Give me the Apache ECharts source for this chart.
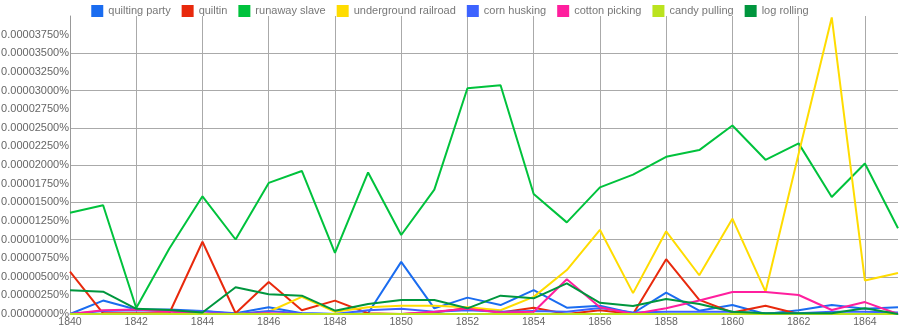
<!DOCTYPE html>
<html>
<head>
<meta charset="utf-8">
<script src="https://cdn.jsdelivr.net/npm/echarts@6/dist/echarts.min.js"></script>
<style>
html,body{margin:0;padding:0;background:#fff;}
#chart{width:900px;height:330px;}
</style>
</head>
<body>
<div id="chart"></div>
<script>
var years = ['1840','1841','1842','1843','1844','1845','1846','1847','1848','1849','1850','1851','1852','1853','1854','1855','1856','1857','1858','1859','1860','1861','1862','1863','1864','1865'];
var seriesNames = ['quilting party','quiltin','runaway slave','underground railroad','corn husking','cotton picking','candy pulling','log rolling'];
var seriesColors = ['#1a6cf0','#e8290c','#00c23c','#ffdc00','#3d63ff','#ff1f9e','#bbe31e','#00963e'];

var quiltingParty = [0e-7,18e-7,6e-7,6e-7,4e-7,1e-7,9e-7,1e-7,0e-7,1e-7,70e-7,7.6e-7,22e-7,12e-7,32e-7,8.5e-7,11e-7,1e-7,28.6e-7,4.5e-7,12e-7,0e-7,5e-7,12e-7,7e-7,9e-7];
var quiltin = [57e-7,1e-7,1e-7,1e-7,97e-7,1e-7,43e-7,5e-7,18e-7,1e-7,0e-7,2e-7,8e-7,2e-7,8.5e-7,0e-7,5e-7,0e-7,73.5e-7,19e-7,2e-7,11e-7,0e-7,0e-7,0e-7,0e-7];
var runawaySlave = [136e-7,146e-7,8e-7,88e-7,158e-7,100e-7,176e-7,192e-7,82e-7,190e-7,106e-7,167e-7,303e-7,307e-7,161e-7,123e-7,170e-7,187e-7,211e-7,220e-7,253e-7,207e-7,229e-7,157e-7,202e-7,115e-7];
var undergroundRailroad = [0e-7,0e-7,0e-7,0e-7,0e-7,0e-7,3e-7,23e-7,3e-7,9e-7,11e-7,11e-7,9e-7,5e-7,23e-7,59e-7,113e-7,28e-7,111e-7,52e-7,128e-7,30e-7,215e-7,398e-7,45e-7,55e-7];
var cornHusking = [0e-7,4e-7,5e-7,4e-7,4e-7,0e-7,4e-7,1e-7,0e-7,5e-7,7e-7,3e-7,5e-7,3e-7,4e-7,3e-7,8e-7,2e-7,3e-7,3e-7,3e-7,1e-7,1e-7,3e-7,3e-7,2e-7];
var cottonPicking = [0e-7,5e-7,6e-7,3e-7,1e-7,0e-7,1e-7,0e-7,0e-7,0e-7,0e-7,3e-7,7e-7,2e-7,3e-7,46.6e-7,9e-7,0e-7,7.6e-7,18e-7,29.6e-7,29.6e-7,25.5e-7,5.4e-7,16e-7,0e-7];
var candyPulling = [0,0,0,0,0,0,0,0,0,0,0,0,0,0,0,0,0,0,0,0,0,0,0,0,0,0];
var logRolling = [32e-7,30e-7,7e-7,5.4e-7,2e-7,36e-7,26.5e-7,24.6e-7,4.5e-7,13.4e-7,18.8e-7,18.8e-7,7.6e-7,24.6e-7,21e-7,41e-7,15e-7,10.7e-7,20e-7,13.4e-7,3e-7,1e-7,1e-7,1e-7,7.6e-7,0e-7];

var yMin = 0, yMax = 0.00004, yLabelStep = 0.0000025, yGridStep = 0.000005;

var allData = [quiltingParty, quiltin, runawaySlave, undergroundRailroad, cornHusking, cottonPicking, candyPulling, logRolling];
var font = '"Liberation Sans", Arial, sans-serif';

var series = seriesNames.map(function(name, i){
  return {
    name: name, type: 'line', data: allData[i], symbol: 'none',
    lineStyle: {width: 2, color: seriesColors[i]}, itemStyle: {color: seriesColors[i]},
    z: 3 + i
  };
});

var chart = echarts.init(document.getElementById('chart'));
chart.setOption({
  animation: false,
  textStyle: {fontFamily: font},
  legend: {
    data: seriesNames, top: 0, left: 'center', icon: 'rect',
    itemWidth: 12, itemHeight: 12, itemGap: 11,
    textStyle: {color: '#777', fontSize: 11, fontFamily: font}
  },
  grid: {left: 70, right: 2, top: 16, bottom: 16, containLabel: false, outerBoundsMode: 'none'},
  xAxis: {
    type: 'category', data: years, boundaryGap: false,
    axisLine: {lineStyle: {color: '#999'}},
    axisTick: {show: false},
    axisLabel: {interval: 1, color: '#666', fontSize: 10.5, margin: 3, fontFamily: font},
    splitLine: {show: true, interval: 1, lineStyle: {color: '#aaaaaa', width: 1}}
  },
  yAxis: [{
    type: 'value', min: yMin, max: yMax, interval: yLabelStep,
    axisLine: {show: true, lineStyle: {color: '#999'}},
    axisTick: {show: false},
    splitLine: {show: false},
    axisLabel: {
      color: '#666', fontSize: 11, margin: 1, fontFamily: font, showMaxLabel: false,
      formatter: function(v){ return v.toFixed(8) + '%'; }
    }
  }, {
    type: 'value', min: yMin, max: yMax, interval: yGridStep, position: 'left',
    axisLine: {show: false}, axisTick: {show: false}, axisLabel: {show: false},
    splitLine: {show: true, showMinLine: false, showMaxLine: false, lineStyle: {color: '#aaaaaa', width: 1}}
  }],
  series: series
});
</script>
</body>
</html>
